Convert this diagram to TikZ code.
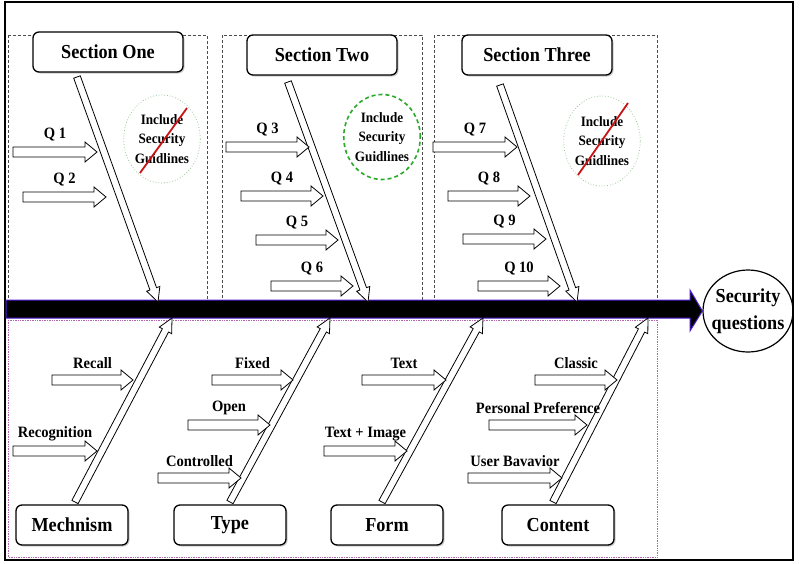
\documentclass[tikz,border=0pt]{standalone}
\usepackage{fontspec}
\setmainfont{Liberation Serif}[FakeStretch=0.92]
\usetikzlibrary{calc,shadows,shapes.geometric,positioning}

% hollow block arrow: from, to, half shaft, half head, head length
\newcommand{\hollowarrow}[5]{%
  \draw[hollow] let \p1=($(#2)-(#1)$), \n1={atan2(\y1,\x1)} in
    ($(#1)+(\n1+90:#3pt)$) --
    ($(#2)+(\n1+180:#5pt)+(\n1+90:#3pt)$) --
    ($(#2)+(\n1+180:#5pt)+(\n1+90:#4pt)$) --
    (#2) --
    ($(#2)+(\n1+180:#5pt)+(\n1-90:#4pt)$) --
    ($(#2)+(\n1+180:#5pt)+(\n1-90:#3pt)$) --
    ($(#1)+(\n1-90:#3pt)$) -- cycle;}
% small labelled arrow: name, x start, x end, y, text
\newcommand{\qarrow}[5]{%
  \coordinate (#1s) at (#2,#4);
  \coordinate (#1e) at (#3,#4);
  \node[qlabel] (#1) at ($(#1s)!0.5!(#1e)+(0,-17)$) {#5};
  \hollowarrow{#1s}{#1e}{5}{10}{12}}

\begin{document}
\begin{tikzpicture}[x=1pt,y=-1pt]
  \tikzstyle{section}=[draw,rounded corners=6,line width=1.3,fill=white,minimum width=150,minimum height=40,
    font=\fontsize{19.8}{21}\bfseries,drop shadow={shadow xshift=1.5pt,shadow yshift=-1.5pt,opacity=0.4}]
  \tikzstyle{factor}=[section,minimum width=112]
  \tikzstyle{qlabel}=[inner sep=0,font=\fontsize{15.8}{17}\bfseries]
  \tikzstyle{hollow}=[draw=black,fill=white,line width=0.8,line join=miter]
  \tikzstyle{guide}=[ellipse,inner sep=0,align=center,font=\fontsize{14.3}{19.5}\bfseries]
  \tikzstyle{area}=[densely dashed,black!70,line width=0.6]
  \tikzstyle{strike}=[draw={rgb,255:red,200;green,20;blue,20},line width=1.8]
  \useasboundingbox (0,0) rectangle (800,563);
  \draw[line width=1.2] (5,2) rectangle (793,560);

  % areas
  \draw[area] (8,35) rectangle (207,300);
  \draw[area] (222,35) rectangle (422,300);
  \draw[area] (434,35) rectangle (657,300);
  \draw[densely dotted,violet!60,line width=0.7] (8,320) rectangle (657,557);

  % head and spine
  \node[ellipse,draw,line width=1.2,minimum width=90,minimum height=82,inner sep=0,
    label={[align=center,font=\fontsize{19.8}{27}\bfseries]center:Security\\questions}] (sq) at (748,311) {};
  \draw[fill=black,draw={rgb,255:red,80;green,30;blue,210},line width=1]
    (6,300) -- (690,300) -- (690,290) -- (sq.west) -- (690,331) -- (690,318) -- (6,318) -- cycle;

  % sections
  \node[section] (s1) at (108,52) {Section One};
  \node[section] (s2) at (322,55) {Section Two};
  \node[section] (s3) at (537,55) {Section Three};
  \node[factor] (m) at (72,525) {Mechnism};
  \node[factor] (t) at (230,525) {Type};
  \node[factor] (f) at (387,525) {Form};
  \node[factor] (c) at (558,525) {Content};

  % guideline notes
  \node[guide,draw=green!45!black!40,dotted,line width=0.8,minimum width=67,minimum height=88] (g1) at (162,139) {Include\\Security\\Guidlines};
  \node[guide,draw={rgb,255:red,40;green,170;blue,40},dash pattern=on 4pt off 3pt,line width=1.6,minimum width=65,minimum height=85] (g2) at (382,137) {Include\\Security\\Guidlines};
  \node[guide,draw=green!45!black!40,dotted,line width=0.8,minimum width=67,minimum height=90] (g3) at (602,141) {Include\\Security\\Guidlines};
  \draw[strike] ($(g1)+(-22,34)$) -- ($(g1)+(25,-31)$);
  \draw[strike] ($(g3)+(-24,34)$) -- ($(g3)+(26,-38)$);

  % bones
  \coordinate (b1) at (77,77);   \coordinate (e1) at (158,302);
  \coordinate (b2) at (288,82);  \coordinate (e2) at (368,302);
  \coordinate (b3) at (500,85);  \coordinate (e3) at (577,302);
  \coordinate (b4) at (75,502);  \coordinate (e4) at (172,318);
  \coordinate (b5) at (230,502); \coordinate (e5) at (330,318);
  \coordinate (b6) at (382,502); \coordinate (e6) at (483,318);
  \coordinate (b7) at (553,502); \coordinate (e7) at (648,318);
  \hollowarrow{b1}{e1}{3.5}{7}{14}
  \hollowarrow{b2}{e2}{3.5}{7}{14}
  \hollowarrow{b3}{e3}{3.5}{7}{14}
  \hollowarrow{b4}{e4}{3.5}{7}{14}
  \hollowarrow{b5}{e5}{3.5}{7}{14}
  \hollowarrow{b6}{e6}{3.5}{7}{14}
  \hollowarrow{b7}{e7}{3.5}{7}{14}

  % questions
  \qarrow{q1}{13}{97}{152}{Q 1}
  \qarrow{q2}{23}{106}{197}{Q 2}
  \qarrow{q3}{226}{309}{147}{Q 3}
  \qarrow{q4}{241}{323}{196}{Q 4}
  \qarrow{q5}{256}{338}{240}{Q 5}
  \qarrow{q6}{271}{353}{286}{Q 6}
  \qarrow{q7}{433}{517}{147}{Q 7}
  \qarrow{q8}{448}{530}{196}{Q 8}
  \qarrow{q9}{463}{546}{239}{Q 9}
  \qarrow{q10}{478}{560}{286}{Q 10}

  % factors
  \qarrow{r1}{52}{133}{380}{Recall}
  \qarrow{r2}{13}{97}{451}{Recognition}
  \qarrow{r3}{212}{293}{380}{Fixed}
  \qarrow{r4}{188}{270}{425}{Open}
  \qarrow{r5}{158}{241}{478}{Controlled}
  \qarrow{r6}{362}{446}{380}{Text}
  \qarrow{r7}{324}{407}{451}{Text + Image}
  \qarrow{r8}{535}{617}{380}{Classic}
  \qarrow{r9}{489}{587}{425}{Personal Preference}
  \qarrow{r10}{468}{562}{478}{User Bavavior}
\end{tikzpicture}
\end{document}
